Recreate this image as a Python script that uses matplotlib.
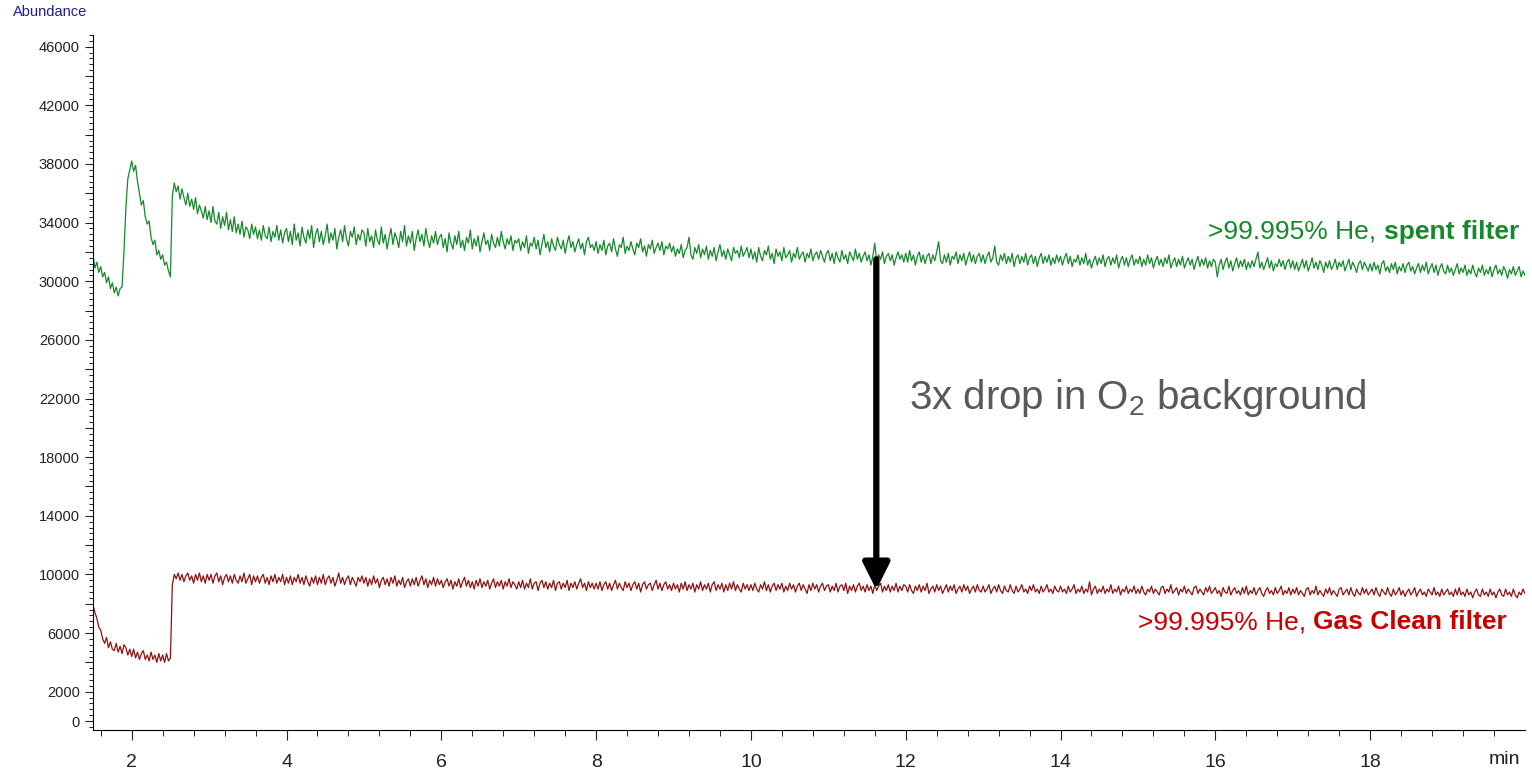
import numpy as np
import matplotlib
matplotlib.use("Agg")
import matplotlib.pyplot as plt
from matplotlib.ticker import FixedLocator, MultipleLocator, FuncFormatter

plt.rcParams['font.family'] = ['Liberation Sans', 'DejaVu Sans']
plt.rcParams['mathtext.fontset'] = 'custom'
plt.rcParams['mathtext.rm'] = 'Liberation Sans'

# scan times: one point every 0.025 min starting at 1.5 min
t_start = 1.5
t_step = 0.025

# >99.995% He, spent filter (abundance), one row per minute
spent = [
    31800, 30900, 31300, 30600, 31000, 30300, 30600, 29900, 30300, 29500, 29900, 29200, 29600, 29000, 29500, 29600, 32000, 35000, 37000, 37600,
    38200, 37500, 37900, 36800, 36000, 35200, 35500, 34400, 33900, 34100, 33000, 32500, 32800, 31800, 32100, 31500, 31800, 31100, 31300, 30700,
    30300, 35800, 36700, 36100, 36500, 35600, 36300, 35700, 35200, 36000, 35100, 35600, 34900, 35700, 34600, 35200, 34800, 34300, 35100, 34200,
    34800, 34000, 35100, 34100, 33900, 34700, 33600, 34400, 33800, 34700, 33500, 34200, 33400, 34400, 33300, 33900, 33200, 34100, 33000, 33700,
    33500, 32900, 33900, 33200, 33700, 32900, 33500, 32800, 33800, 33100, 32900, 33700, 32700, 33400, 33000, 33800, 32800, 33500, 32600, 33300,
    33600, 32700, 33400, 32500, 33900, 32800, 33300, 32400, 33700, 33000, 32600, 33500, 32900, 33800, 32300, 33200, 33600, 32700, 33400, 32500,
    33100, 33900, 32600, 33300, 32800, 33600, 32200, 33000, 33500, 32700, 33800, 32900, 32400, 33400, 33000, 33700, 32500, 33200, 32800, 33500,
    33300, 32400, 33600, 32700, 33100, 32300, 33500, 32800, 32500, 33700, 32600, 33200, 32200, 33000, 33600, 32500, 33300, 32900, 32300, 33400,
    32700, 33800, 32400, 33100, 32600, 33400, 32100, 32900, 33500, 32700, 33200, 32400, 33600, 32800, 32300, 33100, 32600, 33400, 32500, 33000,
    33200, 32300, 32900, 32000, 33300, 32600, 32200, 33100, 32500, 33400, 32300, 32800, 32100, 33000, 32600, 33500, 32200, 32900, 32400, 33100,
    32000, 32700, 33300, 32500, 32800, 32100, 33200, 32600, 32300, 33000, 32400, 33400, 32700, 32200, 32900, 32500, 33100, 32100, 32800, 32600,
    32900, 32100, 32700, 32300, 33100, 31900, 32600, 32400, 33000, 32200, 32800, 31800, 32500, 33200, 32300, 32700, 32000, 32900, 32400, 32100,
    33000, 32500, 32200, 32800, 31900, 32600, 33100, 32300, 32700, 32000, 32500, 32900, 32200, 32600, 31800, 32700, 33000, 32300, 32500, 32100,
    32700, 31900, 32500, 32100, 32800, 31800, 32400, 32600, 32000, 32900, 32200, 31700, 32500, 32300, 33000, 31900, 32400, 32100, 32700, 32200,
    31800, 32600, 32300, 32900, 32000, 32400, 31700, 32500, 32200, 32800, 31900, 32300, 32600, 32100, 32700, 31800, 32400, 32200, 32600, 32000,
    32400, 31700, 32200, 31900, 32500, 31600, 32100, 32300, 33000, 31800, 31500, 32300, 31900, 32500, 31600, 32200, 31800, 32400, 31500, 32100,
    31700, 32300, 31400, 32000, 32500, 31700, 32100, 31500, 32200, 31800, 31400, 32300, 31900, 32100, 31600, 32400, 31700, 32000, 32300, 31600,
    32200, 31500, 32000, 31300, 32300, 31700, 31400, 32100, 31800, 32400, 31500, 31900, 31200, 32200, 31700, 32000, 31400, 32300, 31600, 31800,
    32100, 31300, 31900, 31600, 32300, 31500, 31800, 32000, 31300, 31900, 31600, 32200, 31400, 31800, 32000, 31500, 32100, 31700, 31300, 31900,
    32100, 31400, 31900, 31200, 32000, 31600, 31300, 32100, 31500, 31800, 31200, 32000, 31700, 31400, 32200, 31500, 31900, 31300, 31700, 32000,
    31400, 31800, 31100, 31700, 32600, 31300, 31800, 31500, 32000, 31200, 31700, 31900, 31400, 31800, 31100, 31600, 32000, 31500, 31800, 31300,
    31900, 31300, 32100, 31400, 31800, 31100, 31700, 32000, 31300, 31800, 31200, 31700, 31900, 31200, 31800, 31400, 32000, 32700, 31400, 31200,
    31800, 31300, 31900, 31100, 31700, 31500, 32000, 31200, 31800, 31400, 31900, 31100, 31600, 32000, 31300, 31800, 31200, 31700, 31900, 31300,
    31800, 31200, 31700, 32000, 31300, 31600, 32400, 31300, 31100, 31800, 31400, 31900, 31200, 31700, 31300, 31900, 31000, 31600, 31800, 31200,
    31700, 31300, 31900, 31100, 31600, 31800, 31200, 31700, 31000, 31600, 31900, 31200, 31700, 31300, 31800, 31100, 31600, 31200, 31800, 31300,
    31700, 31100, 31600, 31900, 31200, 31700, 31000, 31500, 31300, 31800, 31100, 31600, 31200, 31900, 31100, 31500, 30900, 31400, 31700, 31100,
    31600, 31200, 31800, 31000, 31500, 31700, 31100, 31600, 31200, 31800, 30900, 31400, 31700, 31100, 31600, 31000, 31500, 31800, 31100, 31500,
    31200, 31700, 31000, 31500, 31100, 31800, 31200, 31600, 30900, 31400, 31700, 31100, 31500, 31000, 31600, 31200, 31800, 30900, 31300, 31600,
    31000, 31500, 31100, 31700, 30900, 31300, 31600, 31100, 31500, 30800, 31300, 31700, 31000, 31500, 31100, 31600, 30900, 31400, 31000, 31500,
    31300, 30300, 31100, 31500, 30800, 31300, 31600, 30900, 31400, 30700, 31200, 31600, 30900, 31400, 31000, 31500, 30800, 31300, 30900, 31400,
    31000, 31500, 32000, 30900, 31300, 30800, 31200, 31600, 30900, 31400, 30700, 31200, 31000, 31500, 31000, 31400, 30800, 31300, 31500, 30900,
    31400, 30800, 31300, 30700, 31100, 31500, 30900, 31400, 30700, 31100, 31600, 30900, 31300, 30800, 31400, 31100, 30600, 31300, 30900, 31400,
    30800, 31100, 31500, 30800, 31300, 31000, 31400, 30700, 31100, 31500, 30800, 31300, 31000, 30600, 31200, 31400, 30800, 31300, 31000, 30700,
    31200, 30700, 31300, 30800, 31100, 30500, 31200, 31400, 30700, 31000, 30600, 31200, 30800, 31300, 30500, 31000, 30700, 31200, 30600, 31100,
    31300, 30700, 31000, 30500, 30900, 31200, 30600, 31100, 30700, 31300, 30500, 30900, 31200, 30600, 31100, 30400, 30900, 31200, 30700, 30500,
    31100, 30600, 30900, 30400, 30800, 31200, 30500, 30900, 30600, 31100, 30400, 30800, 30500, 31100, 30600, 30300, 30900, 30600, 31100, 30400,
    30800, 30500, 31000, 30300, 30800, 31100, 30500, 30800, 30400, 31000, 30700, 30200, 30800, 30500, 31000, 30400, 30700, 31000, 30300, 30700,
    30400,
]

# >99.995% He, Gas Clean filter (abundance), one row per minute
clean = [
    7900, 7400, 7000, 6400, 6200, 5600, 5300, 5700, 5000, 5400, 4900, 4800, 5300, 4700, 5100, 4600, 5200, 5000, 4500, 4900,
    4400, 4900, 4300, 4700, 4200, 4600, 4800, 4200, 4500, 4100, 4700, 4200, 4500, 4000, 4600, 4100, 4500, 4000, 4600, 4100,
    4300, 9300, 10000, 9700, 10100, 9600, 10000, 9500, 9900, 10100, 9600, 9900, 9400, 10000, 9600, 10100, 9500, 9900, 9400, 10000,
    9600, 10000, 9400, 9900, 10100, 9500, 9900, 9300, 9800, 10000, 9500, 9900, 9400, 10000, 9600, 9400, 9900, 9500, 10100, 9400,
    9700, 10000, 9300, 9900, 9500, 9900, 9400, 9800, 10000, 9400, 9800, 9300, 9900, 9500, 10000, 9400, 9800, 9500, 10000, 9300,
    9800, 9400, 9900, 9300, 9800, 9500, 10000, 9400, 9800, 9300, 9900, 9500, 9200, 9800, 9400, 9900, 9300, 9800, 9400, 10000,
    9300, 9700, 9900, 9400, 9800, 9200, 9600, 10100, 9400, 9800, 9300, 9700, 9900, 9300, 9800, 9500, 9200, 9800, 9500, 9900,
    9400, 9800, 9200, 9700, 9300, 9900, 9400, 9700, 9100, 9600, 9800, 9300, 9700, 9200, 9800, 9400, 9900, 9200, 9600, 9300,
    9800, 9100, 9500, 9700, 9200, 9700, 9300, 9800, 9200, 9600, 9900, 9300, 9700, 9100, 9600, 9300, 9800, 9200, 9700, 9300,
    9600, 9100, 9500, 9700, 9200, 9600, 9000, 9500, 9200, 9700, 9100, 9500, 9800, 9200, 9600, 9100, 9500, 9000, 9600, 9200,
    9700, 9100, 9500, 9200, 9600, 9000, 9400, 9700, 9100, 9500, 9200, 9600, 9000, 9500, 9200, 9700, 9100, 9500, 9300, 9000,
    9500, 9100, 9600, 9000, 9400, 9100, 9700, 9000, 9400, 9500, 8900, 9400, 9600, 9100, 9500, 9000, 9400, 9100, 9600, 8900,
    9400, 9500, 9000, 9400, 9100, 9600, 8900, 9400, 9100, 9500, 9000, 9400, 9700, 9100, 9400, 8900, 9500, 9100, 9400, 9000,
    9400, 9000, 9500, 8900, 9300, 9500, 9000, 9400, 8900, 9300, 9600, 9000, 9400, 9100, 8900, 9500, 9100, 9400, 8900, 9300,
    9500, 9000, 9400, 8800, 9300, 9500, 9000, 9300, 9400, 8900, 9300, 9600, 9000, 9400, 8900, 9300, 9500, 9000, 9300, 8900,
    9400, 9000, 9300, 8800, 9400, 9000, 9500, 8900, 9300, 9000, 9400, 8800, 9300, 9000, 9500, 8900, 9300, 9000, 9400, 8800,
    9300, 9500, 8900, 9300, 9000, 9400, 8800, 9300, 8900, 9400, 9000, 9500, 8900, 9300, 9000, 8800, 9400, 9000, 9300, 8900,
    9300, 8900, 9400, 9000, 8800, 9300, 9000, 9500, 8900, 9300, 8800, 9200, 9400, 8900, 9300, 9000, 9400, 8800, 9200, 8900,
    9400, 9000, 9300, 8800, 9200, 9400, 8900, 9300, 9000, 8700, 9300, 8900, 9400, 9000, 9300, 8800, 9200, 9400, 8900, 9200,
    9300, 8800, 9200, 8900, 9400, 8800, 9200, 9300, 8900, 9400, 8700, 9200, 8900, 9300, 8800, 9200, 9400, 8900, 9200, 8800,
    9300, 8900, 9200, 8700, 9300, 8900, 9200, 9400, 8800, 9200, 8900, 9300, 8800, 9200, 8900, 9400, 8800, 9200, 8900, 9300,
    9200, 8800, 9300, 8900, 8700, 9200, 8900, 9300, 8800, 9200, 8900, 9400, 8700, 9000, 9200, 8800, 9300, 8900, 9200, 8700,
    9000, 9300, 8800, 9200, 8900, 9300, 8700, 9000, 9200, 8800, 9300, 8900, 9200, 8700, 9000, 9200, 8800, 9300, 8900, 8800,
    9200, 8800, 9000, 9300, 8700, 9000, 9200, 8800, 9300, 8900, 8700, 9200, 8900, 8800, 9300, 8900, 8700, 9200, 8800, 9000,
    9300, 8800, 9000, 8700, 9200, 8900, 9300, 8800, 9000, 8700, 9200, 8800, 9000, 9300, 8800, 9000, 8700, 9200, 8900, 8800,
    9200, 8800, 9000, 8700, 9200, 8800, 9000, 9300, 8700, 9000, 8800, 9200, 8700, 9000, 8800, 9500, 8600, 9000, 9200, 8700,
    9000, 8800, 9200, 8700, 9000, 8800, 9300, 8700, 9000, 8800, 9200, 8600, 9000, 8800, 9200, 8700, 9000, 8800, 9200, 8700,
    9000, 8700, 9200, 8800, 8600, 9000, 8800, 9200, 8700, 9000, 8800, 8600, 9100, 9200, 8700, 9000, 8800, 9300, 8700, 8900,
    9100, 8600, 9000, 8800, 9200, 8700, 9000, 8800, 8600, 9100, 9200, 8700, 9000, 8800, 8600, 9100, 8800, 9200, 8700, 8900,
    9100, 8700, 8900, 8500, 9100, 8800, 8700, 9200, 8600, 8900, 9100, 8700, 8900, 8600, 9100, 8700, 9200, 8600, 8900, 8700,
    9100, 8600, 8900, 9100, 8700, 8500, 8900, 9100, 8700, 8900, 8600, 9100, 8700, 8900, 9200, 8600, 8900, 8700, 9100, 8600,
    9000, 8700, 9100, 8600, 8900, 8700, 8500, 9000, 9100, 8600, 8900, 8700, 9200, 8600, 8900, 8700, 8500, 9000, 8700, 9100,
    8600, 8900, 8700, 8500, 9000, 9100, 8600, 8800, 9000, 8600, 9100, 8700, 8500, 9000, 8700, 8600, 9100, 8700, 9000, 8600,
    8800, 9000, 8600, 9100, 8700, 8500, 9000, 8800, 8600, 9100, 8700, 8500, 9000, 8600, 8800, 9100, 8600, 8900, 8500, 8800,
    9000, 8600, 8800, 9100, 8500, 8800, 9000, 8600, 8800, 8500, 9000, 8800, 8600, 9100, 8600, 8800, 8500, 9000, 8600, 8800,
    9000, 8600, 8800, 8500, 9000, 8600, 9100, 8600, 8800, 8500, 9000, 8600, 8800, 8400, 8800, 9000, 8600, 8500, 9000, 8600,
    8800, 8500, 9000, 8600, 8800, 8400, 8800, 9000, 8600, 8500, 9000, 8600, 8800, 8500, 9000, 8600, 8400, 8800, 8600, 9000,
    8700,
]

# arrow between the two baselines
arrow_t = 11.62
arrow_top = 31500
arrow_bottom = 8950

x_major = [2, 4, 6, 8, 10, 12, 14, 16, 18]

green = '#15892b'
red_line = '#8e1212'
red_text = '#c80000'

fig = plt.figure(figsize=(15.32, 7.77), dpi=100)
ax = fig.add_axes([0.0607, 0.0605, 0.9347, 0.8945])

ax.plot(t_start + t_step * np.arange(len(spent)), spent, color=green, lw=0.9)
ax.plot(t_start + t_step * np.arange(len(clean)), clean, color=red_line, lw=0.9)

ax.set_xlim(1.5, 20.0)
ax.set_ylim(-613, 46800)

ax.spines['top'].set_visible(False)
ax.spines['right'].set_visible(False)

ax.xaxis.set_major_locator(FixedLocator(x_major))
ax.xaxis.set_minor_locator(FixedLocator(np.arange(1.6, 19.7, 0.4)))
ax.yaxis.set_major_locator(MultipleLocator(2000))
ax.yaxis.set_minor_locator(MultipleLocator(400))
ax.yaxis.set_major_formatter(FuncFormatter(
    lambda v, p: '%d' % v if (v == 0 or (v - 2000) % 4000 == 0) else ''))
ax.xaxis.set_major_formatter(FuncFormatter(lambda v, p: '%d' % v))

ax.tick_params(axis='x', which='major', length=7, labelsize=14, pad=10, colors='#222222')
ax.tick_params(axis='x', which='minor', length=4)
ax.tick_params(axis='y', which='major', length=6, labelsize=10.5, colors='#222222')
ax.tick_params(axis='y', which='minor', length=3)

fig.text(0.0085, 0.993, 'Abundance', color='#1c1c9a', fontsize=10.5, va='top', ha='left')
fig.text(0.982, 0.012, 'min', color='#222222', fontsize=14, ha='center', va='bottom')

ax.annotate('', xy=(arrow_t, arrow_bottom), xytext=(arrow_t, arrow_top),
            arrowprops=dict(arrowstyle='-|>,head_length=0.8,head_width=0.4',
                            lw=4.5, color='black', mutation_scale=20,
                            shrinkA=0, shrinkB=0))

ax.text(12.04, 21300, r'3x drop in O$_\mathregular{2}$ background',
        fontsize=29, color='#595959', ha='left', va='baseline')

# labels with a bold tail
b1 = ax.text(19.92, 32900, 'spent filter', color=green, fontsize=19,
             weight='bold', ha='right', va='baseline')
b2 = ax.text(19.76, 6270, 'Gas Clean filter', color=red_text, fontsize=19,
             weight='bold', ha='right', va='baseline')
fig.canvas.draw()
inv = ax.transData.inverted()
for b, y, c in [(b1, 32900, green), (b2, 6270, red_text)]:
    ext = b.get_window_extent()
    x0 = inv.transform((ext.x0 - 7, 0))[0]
    ax.text(x0, y, '>99.995% He,', color=c, fontsize=19, ha='right', va='baseline')

fig.savefig('out.png', dpi=100)
